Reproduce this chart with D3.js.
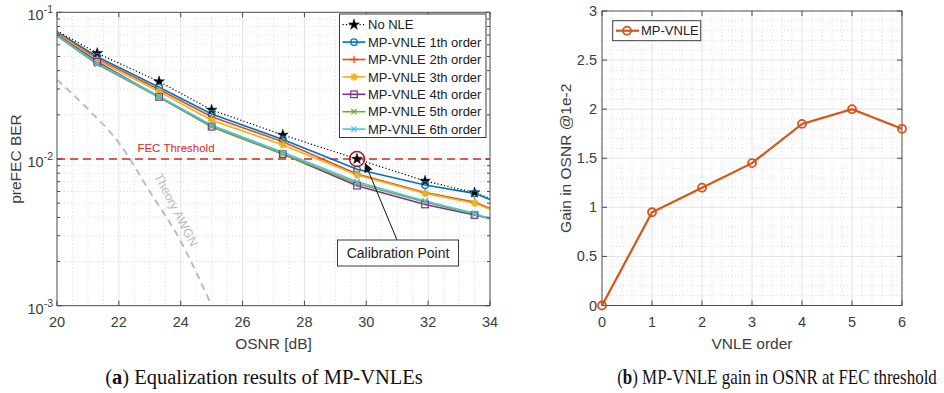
<!DOCTYPE html>
<html>
<head>
<meta charset="utf-8">
<script src="https://cdn.jsdelivr.net/npm/d3@7"></script>
<style>
  body { margin: 0; background: #fff; }
  svg { display: block; }
  text { font-family: "Liberation Sans", Arial, sans-serif; }
</style>
</head>
<body>
<svg id="fig" width="944" height="393"></svg>
<script>
// ---- data: pre-FEC BER versus OSNR ----
const osnr = [20, 21.3, 23.3, 25, 27.3, 29.7, 31.9, 33.5, 34];
const berNoNLE = [0.0746, 0.0526, 0.0337, 0.0216, 0.0146, 0.0100, 0.00708, 0.0059, 0.0054];
const berVnle1 = [0.0735, 0.0498, 0.0308, 0.0203, 0.0136, 0.0085, 0.00665, 0.00583, 0.0053];
const berVnle2 = [0.0725, 0.0483, 0.0298, 0.0194, 0.0131, 0.0079, 0.0059, 0.0051, 0.0046];
const berVnle3 = [0.0715, 0.0473, 0.0288, 0.0184, 0.01245, 0.00778, 0.00583, 0.0050, 0.00454];
const berVnle4 = [0.0700, 0.0460, 0.0265, 0.0166, 0.0108, 0.00658, 0.0049, 0.00415, 0.00395];
const berVnle5 = [0.0690, 0.0442, 0.0263, 0.0166, 0.0108, 0.0068, 0.0051, 0.0042, 0.0039];
const berVnle6 = [0.0695, 0.0450, 0.0268, 0.0170, 0.0111, 0.0070, 0.00518, 0.00427, 0.0039];
const seriesNames = ["No NLE", "MP-VNLE 1th order", "MP-VNLE 2th order", "MP-VNLE 3th order",
                     "MP-VNLE 4th order", "MP-VNLE 5th order", "MP-VNLE 6th order"];

// theoretical AWGN curve
const awgnOsnr = [20, 21, 22, 23, 24, 25];
const awgnBer = [0.0347, 0.0219, 0.0129, 0.0060, 0.00275, 0.001];

const fecThreshold = 0.01;
const calibration = [29.7, 0.01];

// ---- data: OSNR gain versus VNLE order ----
const vnleOrder = [0, 1, 2, 3, 4, 5, 6];
const osnrGain = [0, 0.95, 1.2, 1.45, 1.85, 2.0, 1.8];

// tick labels
const osnrTicks = [20, 22, 24, 26, 28, 30, 32, 34];
const berTicks = [1e-3, 1e-2, 1e-1];
const orderTicks = [0, 1, 2, 3, 4, 5, 6];
const gainTicks = [0, 0.5, 1, 1.5, 2, 2.5, 3];

// ---- drawing ----
const svg = d3.select("#fig");
const AX = "#4a4a4a", TICK_TXT = "#3c3c3c";
const GRID = "#e3e3e3", MINOR = "#cfcfcf";

const colors = ["#000000", "#0072BD", "#D95319", "#EDB120", "#7E2F8E", "#77AC30", "#4DBEEE"];
const berSeries = [berNoNLE, berVnle1, berVnle2, berVnle3, berVnle4, berVnle5, berVnle6];
const markerKinds = ["star", "circle", "plus", "asterisk", "square", "x", "x"];

function drawMarker(g, kind, x, y, color) {
  const s = 3.3;
  if (kind === "star") {
    g.append("path").attr("d", d3.symbol(d3.symbolStar, 36)())
      .attr("transform", `translate(${x},${y})`).attr("fill", color).attr("stroke", color).attr("stroke-width", 0.5);
  } else if (kind === "circle") {
    g.append("circle").attr("cx", x).attr("cy", y).attr("r", s)
      .attr("fill", "none").attr("stroke", color).attr("stroke-width", 1.3);
  } else if (kind === "square") {
    g.append("rect").attr("x", x - s).attr("y", y - s).attr("width", 2 * s).attr("height", 2 * s)
      .attr("fill", "none").attr("stroke", color).attr("stroke-width", 1.2);
  } else {
    let d = "";
    if (kind === "plus" || kind === "asterisk") d += `M${x - s - 0.5},${y}H${x + s + 0.5}M${x},${y - s - 0.5}V${y + s + 0.5}`;
    if (kind === "x" || kind === "asterisk") d += `M${x - s + 0.6},${y - s + 0.6}L${x + s - 0.6},${y + s - 0.6}M${x - s + 0.6},${y + s - 0.6}L${x + s - 0.6},${y - s + 0.6}`;
    g.append("path").attr("d", d).attr("stroke", color).attr("stroke-width", kind === "asterisk" ? 1.6 : 1.3).attr("fill", "none");
  }
}

// ================= left panel =================
const L = { x0: 57, x1: 490, y0: 12.3, y1: 305.7 };
const xL = d3.scaleLinear().domain([20, 34]).range([L.x0, L.x1]);
const yL = d3.scaleLog().domain([1e-3, 1e-1]).range([L.y1, L.y0]);

const gL = svg.append("g");
svg.append("defs").append("clipPath").attr("id", "clipL")
  .append("rect").attr("x", L.x0).attr("y", L.y0).attr("width", L.x1 - L.x0).attr("height", L.y1 - L.y0);

// minor grid
const minorX = d3.range(20.5, 34, 0.5).filter(v => Math.abs(v / 2 - Math.round(v / 2)) > 1e-6);
const minorY = [];
[1e-3, 1e-2].forEach(dec => { for (let k = 2; k <= 9; k++) minorY.push(k * dec); });
gL.selectAll(".mgx").data(minorX).join("line")
  .attr("x1", d => xL(d)).attr("x2", d => xL(d)).attr("y1", L.y0).attr("y2", L.y1)
  .attr("stroke", MINOR).attr("stroke-width", 0.8).attr("stroke-dasharray", "1,2.5");
gL.selectAll(".mgy").data(minorY).join("line")
  .attr("y1", d => yL(d)).attr("y2", d => yL(d)).attr("x1", L.x0).attr("x2", L.x1)
  .attr("stroke", MINOR).attr("stroke-width", 0.8).attr("stroke-dasharray", "1,2.5");
// major grid
gL.selectAll(".gx").data(osnrTicks.slice(1, -1)).join("line")
  .attr("x1", d => xL(d)).attr("x2", d => xL(d)).attr("y1", L.y0).attr("y2", L.y1)
  .attr("stroke", GRID).attr("stroke-width", 1);
gL.selectAll(".gy").data([1e-2]).join("line")
  .attr("y1", d => yL(d)).attr("y2", d => yL(d)).attr("x1", L.x0).attr("x2", L.x1)
  .attr("stroke", GRID).attr("stroke-width", 1);

const plotL = gL.append("g").attr("clip-path", "url(#clipL)");

// theory AWGN
plotL.append("path").datum(awgnOsnr.map((o, i) => [o, awgnBer[i]]))
  .attr("d", d3.line().x(d => xL(d[0])).y(d => yL(d[1])).curve(d3.curveMonotoneX))
  .attr("fill", "none").attr("stroke", "#bdbdbd").attr("stroke-width", 2).attr("stroke-dasharray", "7,5");

// FEC threshold
plotL.append("line").attr("x1", L.x0).attr("x2", L.x1).attr("y1", yL(fecThreshold)).attr("y2", yL(fecThreshold))
  .attr("stroke", "#d42a2a").attr("stroke-width", 1.3).attr("stroke-dasharray", "8,5");

// BER curves
const lineL = d3.line().x((d, i) => xL(osnr[i])).y(d => yL(d));
berSeries.forEach((ser, k) => {
  const p = plotL.append("path").datum(ser).attr("d", lineL).attr("fill", "none")
    .attr("stroke", colors[k]).attr("stroke-width", k === 0 ? 1.2 : 1.6);
  if (k === 0) p.attr("stroke-dasharray", "1.2,2.2");
});
berSeries.forEach((ser, k) => {
  ser.forEach((v, i) => {
    if (i === 0 || i === ser.length - 1) return;
    drawMarker(plotL, markerKinds[k], xL(osnr[i]), yL(v), colors[k]);
  });
});

// axes box and ticks
gL.append("rect").attr("x", L.x0).attr("y", L.y0).attr("width", L.x1 - L.x0).attr("height", L.y1 - L.y0)
  .attr("fill", "none").attr("stroke", AX).attr("stroke-width", 1);
osnrTicks.forEach(t => {
  const x = xL(t);
  gL.append("line").attr("x1", x).attr("x2", x).attr("y1", L.y1).attr("y2", L.y1 - 5).attr("stroke", AX);
  gL.append("line").attr("x1", x).attr("x2", x).attr("y1", L.y0).attr("y2", L.y0 + 5).attr("stroke", AX);
  gL.append("text").attr("x", x).attr("y", 327).attr("text-anchor", "middle")
    .attr("font-size", 14.5).attr("fill", TICK_TXT).text(t);
});
berTicks.forEach(t => {
  const y = yL(t);
  gL.append("line").attr("x1", L.x0).attr("x2", L.x0 + 5).attr("y1", y).attr("y2", y).attr("stroke", AX);
  gL.append("line").attr("x1", L.x1).attr("x2", L.x1 - 5).attr("y1", y).attr("y2", y).attr("stroke", AX);
  const tx = gL.append("text").attr("x", 53).attr("y", y + 8).attr("text-anchor", "end")
    .attr("font-size", 14.5).attr("fill", TICK_TXT);
  tx.append("tspan").text("10");
  tx.append("tspan").attr("dy", -7).attr("font-size", 10.5).text(String(Math.round(Math.log10(t))));
});
minorY.forEach(t => {
  const y = yL(t);
  gL.append("line").attr("x1", L.x0).attr("x2", L.x0 + 3).attr("y1", y).attr("y2", y).attr("stroke", AX);
  gL.append("line").attr("x1", L.x1).attr("x2", L.x1 - 3).attr("y1", y).attr("y2", y).attr("stroke", AX);
});

// axis titles
gL.append("text").attr("x", (L.x0 + L.x1) / 2).attr("y", 349).attr("text-anchor", "middle")
  .attr("font-size", 15.5).attr("fill", TICK_TXT).text("OSNR [dB]");
gL.append("text").attr("transform", `translate(21,${(L.y0 + L.y1) / 2}) rotate(-90)`).attr("text-anchor", "middle")
  .attr("font-size", 15.5).attr("fill", TICK_TXT).text("preFEC BER");

// annotations
gL.append("text").attr("x", 176).attr("y", 152).attr("text-anchor", "middle")
  .attr("font-size", 11.5).attr("fill", "#d42a2a").text("FEC Threshold");
gL.append("text").attr("transform", "translate(176,210) rotate(62.5)").attr("text-anchor", "middle")
  .attr("dy", 4).attr("font-size", 12.5).attr("fill", "#bcbcbc").text("Theory AWGN");
gL.append("circle").attr("cx", xL(calibration[0])).attr("cy", yL(calibration[1])).attr("r", 7.5)
  .attr("fill", "none").attr("stroke", "#b3142a").attr("stroke-width", 1.5);

// callout arrow and box
const defs = svg.select("defs");
defs.append("marker").attr("id", "arrowHead").attr("viewBox", "0 0 10 10").attr("refX", 10).attr("refY", 5)
  .attr("markerWidth", 9).attr("markerHeight", 9).attr("markerUnits", "userSpaceOnUse").attr("orient", "auto")
  .append("path").attr("d", "M0,0L10,5L0,10z").attr("fill", "#111");
gL.append("line").attr("x1", 397).attr("y1", 240).attr("x2", xL(calibration[0]) + 8).attr("y2", yL(calibration[1]) + 4)
  .attr("stroke", "#111").attr("stroke-width", 1).attr("marker-end", "url(#arrowHead)");
gL.append("rect").attr("x", 337.5).attr("y", 240).attr("width", 121).attr("height", 26)
  .attr("fill", "#fff").attr("stroke", "#3a3a3a").attr("stroke-width", 1);
gL.append("text").attr("x", 398).attr("y", 258).attr("text-anchor", "middle")
  .attr("font-size", 14).attr("fill", "#222").text("Calibration Point");

// legend
const legL = gL.append("g");
legL.append("rect").attr("x", 339.5).attr("y", 14).attr("width", 146.5).attr("height", 123.5)
  .attr("fill", "#fff").attr("stroke", "#3a3a3a").attr("stroke-width", 1);
seriesNames.forEach((name, k) => {
  const y = 24.7 + k * 17.4;
  const ln = legL.append("line").attr("x1", 342.5).attr("x2", 365.5).attr("y1", y).attr("y2", y)
    .attr("stroke", colors[k]).attr("stroke-width", k === 0 ? 1.2 : 1.6);
  if (k === 0) ln.attr("stroke-dasharray", "1.2,2.2");
  drawMarker(legL, markerKinds[k], 354, y, colors[k]);
  legL.append("text").attr("x", 368).attr("y", y + 4.6).attr("font-size", 13).attr("fill", "#222").text(name);
});

// ================= right panel =================
const R = { x0: 602, x1: 902, y0: 11, y1: 305.5 };
const xR = d3.scaleLinear().domain([0, 6]).range([R.x0, R.x1]);
const yR = d3.scaleLinear().domain([0, 3]).range([R.y1, R.y0]);
const gR = svg.append("g");

const minorXR = d3.range(0, 6.001, 0.2).filter(v => Math.abs(v - Math.round(v)) > 1e-6);
const minorYR = d3.range(0, 3.001, 0.1).filter(v => Math.abs(v * 2 - Math.round(v * 2)) > 1e-6);
gR.selectAll(".mgx").data(minorXR).join("line")
  .attr("x1", d => xR(d)).attr("x2", d => xR(d)).attr("y1", R.y0).attr("y2", R.y1)
  .attr("stroke", MINOR).attr("stroke-width", 0.8).attr("stroke-dasharray", "1,2.5");
gR.selectAll(".mgy").data(minorYR).join("line")
  .attr("y1", d => yR(d)).attr("y2", d => yR(d)).attr("x1", R.x0).attr("x2", R.x1)
  .attr("stroke", MINOR).attr("stroke-width", 0.8).attr("stroke-dasharray", "1,2.5");
gR.selectAll(".gx").data(orderTicks.slice(1, -1)).join("line")
  .attr("x1", d => xR(d)).attr("x2", d => xR(d)).attr("y1", R.y0).attr("y2", R.y1)
  .attr("stroke", GRID).attr("stroke-width", 1);
gR.selectAll(".gy").data(gainTicks.slice(1, -1)).join("line")
  .attr("y1", d => yR(d)).attr("y2", d => yR(d)).attr("x1", R.x0).attr("x2", R.x1)
  .attr("stroke", GRID).attr("stroke-width", 1);

gR.append("rect").attr("x", R.x0).attr("y", R.y0).attr("width", R.x1 - R.x0).attr("height", R.y1 - R.y0)
  .attr("fill", "none").attr("stroke", AX).attr("stroke-width", 1);
orderTicks.forEach(t => {
  const x = xR(t);
  gR.append("line").attr("x1", x).attr("x2", x).attr("y1", R.y1).attr("y2", R.y1 - 5).attr("stroke", AX);
  gR.append("line").attr("x1", x).attr("x2", x).attr("y1", R.y0).attr("y2", R.y0 + 5).attr("stroke", AX);
  gR.append("text").attr("x", x).attr("y", 327).attr("text-anchor", "middle")
    .attr("font-size", 14.5).attr("fill", TICK_TXT).text(t);
});
gainTicks.forEach(t => {
  const y = yR(t);
  gR.append("line").attr("x1", R.x0).attr("x2", R.x0 + 5).attr("y1", y).attr("y2", y).attr("stroke", AX);
  gR.append("line").attr("x1", R.x1).attr("x2", R.x1 - 5).attr("y1", y).attr("y2", y).attr("stroke", AX);
  gR.append("text").attr("x", 597).attr("y", y + 5).attr("text-anchor", "end")
    .attr("font-size", 14.5).attr("fill", TICK_TXT).text(t);
});

const gainColor = "#D95319";
gR.append("path").datum(osnrGain)
  .attr("d", d3.line().x((d, i) => xR(vnleOrder[i])).y(d => yR(d)))
  .attr("fill", "none").attr("stroke", gainColor).attr("stroke-width", 2.2);
osnrGain.forEach((v, i) => {
  gR.append("circle").attr("cx", xR(vnleOrder[i])).attr("cy", yR(v)).attr("r", 4)
    .attr("fill", "none").attr("stroke", gainColor).attr("stroke-width", 1.8);
});

gR.append("text").attr("x", (R.x0 + R.x1) / 2).attr("y", 349).attr("text-anchor", "middle")
  .attr("font-size", 15.5).attr("fill", TICK_TXT).text("VNLE order");
gR.append("text").attr("transform", `translate(571,${(R.y0 + R.y1) / 2}) rotate(-90)`).attr("text-anchor", "middle")
  .attr("font-size", 15.5).attr("fill", TICK_TXT).text("Gain in OSNR @1e-2");

const legR = gR.append("g");
legR.append("rect").attr("x", 612.7).attr("y", 20.7).attr("width", 88).attr("height", 20)
  .attr("fill", "#fff").attr("stroke", "#3a3a3a").attr("stroke-width", 1);
legR.append("line").attr("x1", 616).attr("x2", 639).attr("y1", 30.7).attr("y2", 30.7)
  .attr("stroke", gainColor).attr("stroke-width", 2.2);
legR.append("circle").attr("cx", 627).attr("cy", 30.7).attr("r", 4)
  .attr("fill", "none").attr("stroke", gainColor).attr("stroke-width", 1.8);
legR.append("text").attr("x", 641).attr("y", 35.3).attr("font-size", 13).attr("fill", "#222").text("MP-VNLE");

// ================= captions =================
// each caption is squeezed horizontally if it would exceed its column width
function caption(cx, maxWidth, letter, rest) {
  const t = svg.append("text").attr("x", cx).attr("y", 384).attr("text-anchor", "middle")
    .attr("font-size", 20.5).attr("fill", "#111")
    .style("font-family", "'Liberation Serif', 'Times New Roman', serif");
  t.append("tspan").text("(");
  t.append("tspan").attr("font-weight", "bold").text(letter);
  t.append("tspan").text(") " + rest);
  const w = t.node().getComputedTextLength();
  if (w > maxWidth) {
    const k = maxWidth / w;
    t.attr("transform", `translate(${cx},0) scale(${k},1) translate(${-cx},0)`);
  }
}
caption(264, 324, "a", "Equalization results of MP-VNLEs");
caption(777, 320, "b", "MP-VNLE gain in OSNR at FEC threshold");
</script>
</body>
</html>
